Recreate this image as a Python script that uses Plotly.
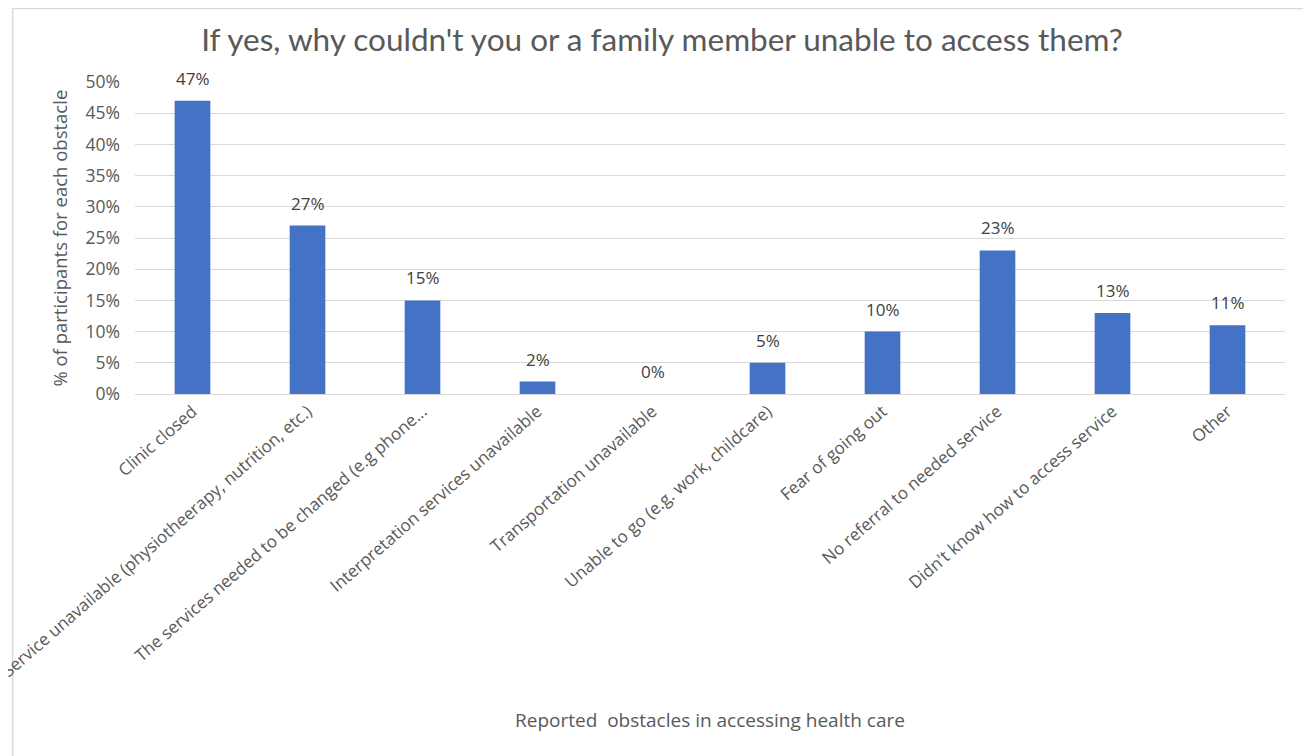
import plotly.graph_objects as go

categories = [
    "Clinic closed",
    "Service unavailable (physiotheerapy, nutrition, etc.)",
    "The services needed to be changed (e.g phone...",
    "Interpretation services unavailable",
    "Transportation unavailable",
    "Unable to go (e.g. work, childcare)",
    "Fear of going out",
    "No referral to needed service",
    "Didn't know how to access service",
    "Other",
]
values = [0.47, 0.27, 0.15, 0.02, 0.00, 0.05, 0.10, 0.23, 0.13, 0.11]
y_ticks = [0, 0.05, 0.10, 0.15, 0.20, 0.25, 0.30, 0.35, 0.40, 0.45, 0.50]

# page has an 8px body margin, so figure coordinates = reference - 8
W, H = 1303, 748
ml, mr, mt, mb = 126.5, 25.5, 74, 362
pw = W - ml - mr
ph = H - mt - mb

def px_x(p):
    return (p - ml) / pw

def px_y(p):
    return (H - mb - p) / ph

TXT = "#595959"

fig = go.Figure(go.Bar(
    x=categories,
    y=values,
    marker=dict(color="#4472C4", line=dict(width=0)),
    width=0.31,
    hoverinfo="x+y",
))

annotations = [
    dict(x=c, y=v, xref="x", yref="y", text=f"{round(v*100)}%",
         showarrow=False, yanchor="bottom", yshift=9,
         font=dict(family="Open Sans", size=17, color="#404040"))
    for c, v in zip(categories, values)
]
annotations += [
    dict(x=px_x(702), y=px_y(712), xref="paper", yref="paper",
         text="Reported  obstacles in accessing health care",
         showarrow=False, xanchor="center", yanchor="middle",
         font=dict(family="Open Sans", size=19, color=TXT)),
    dict(x=px_x(50), y=px_y(230), xref="paper", yref="paper",
         text="% of participants for each obstacle", textangle=-90,
         showarrow=False, xanchor="center", yanchor="middle",
         font=dict(family="Open Sans", size=18.5, color=TXT)),
]

fig.update_layout(
    width=W, height=H,
    margin=dict(l=ml, r=mr, t=mt, b=mb, autoexpand=False),
    paper_bgcolor="white",
    plot_bgcolor="white",
    showlegend=False,
    title=dict(
        text="If yes, why couldn't you or a family member unable to access them?",
        x=654 / W, xanchor="center", y=1 - 32 / H, yanchor="middle",
        font=dict(family="Lato", size=31.5, color=TXT),
    ),
    xaxis=dict(
        tickangle=-41,
        tickfont=dict(family="Open Sans", size=17, color=TXT),
        showgrid=False,
        showline=True, linecolor="#d9d9d9", linewidth=1,
        ticks="", automargin=False,
    ),
    yaxis=dict(
        range=[0, 0.5],
        tickvals=y_ticks,
        ticktext=[f"{round(t*100)}%" for t in y_ticks],
        tickfont=dict(family="Open Sans", size=17.5, color=TXT),
        ticklabelstandoff=14,
        showgrid=True, gridcolor="#d9d9d9", gridwidth=1,
        zeroline=False, ticks="", automargin=False,
    ),
    annotations=annotations,
    shapes=[
        dict(type="rect", xref="paper", yref="paper",
             x0=px_x(4), x1=px_x(1302), y0=px_y(0.5), y1=px_y(770),
             line=dict(color="#d9d9d9", width=1.5), fillcolor="rgba(0,0,0,0)",
             layer="below"),
    ],
)

fig.write_html("out.html")
